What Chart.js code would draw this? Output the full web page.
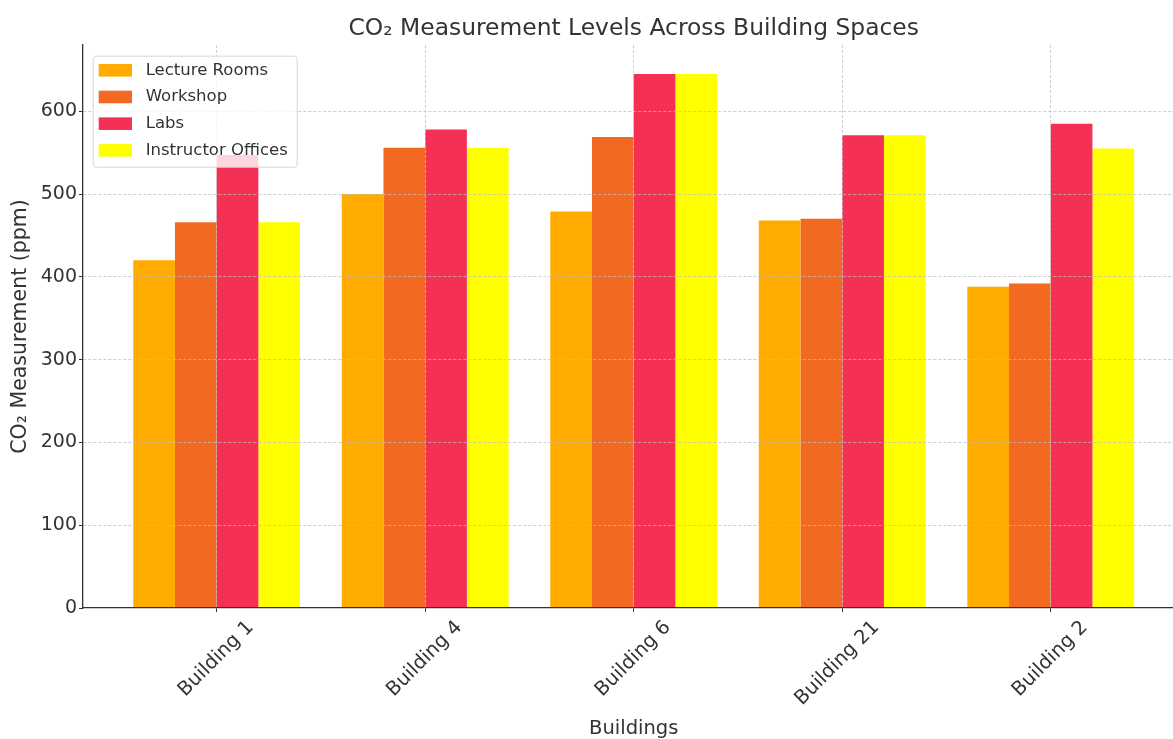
<!DOCTYPE html>
<html>
<head>
<meta charset="utf-8">
<title>CO₂ Measurement Levels Across Building Spaces</title>
<script src="https://cdn.jsdelivr.net/npm/chart.js@4.4.0/dist/chart.umd.min.js"></script>
<style>
  html, body { margin: 0; padding: 0; background: #ffffff; overflow: hidden; }
  #wrap { width: 1200px; height: 750px; }
</style>
</head>
<body>
<div id="wrap"><canvas id="co2" width="1200" height="750"></canvas></div>
<script>
// Buildings on the x axis and the CO₂ readings (ppm) for each space type
const buildings = ['Building 1', 'Building 4', 'Building 6', 'Building 21', 'Building 2'];
const lectureRooms      = [420, 500, 479, 468, 388];
const workshop          = [466, 556, 569, 470, 392];
const labs              = [547, 578, 645, 571, 585];
const instructorOffices = [466, 556, 645, 571, 555];
const yTicks = [0, 100, 200, 300, 400, 500, 600];

const seriesNames  = ['Lecture Rooms', 'Workshop', 'Labs', 'Instructor Offices'];
const seriesValues = [lectureRooms, workshop, labs, instructorOffices];
const seriesColors = ['#FFAB00', '#F26922', '#F53055', '#FFFF00'];

const FONT = '"DejaVu Sans", "Liberation Sans", sans-serif';
const TEXT = '#333333';
const GRID = 'rgba(190,190,190,0.75)';

// Boxed legend in the top-left corner of the plot, drawn on top of the bars
const boxedLegend = {
  id: 'boxedLegend',
  afterDraw(chart) {
    const ctx = chart.ctx;
    const area = chart.chartArea;
    const x0 = area.left + 9.7, y0 = area.top + 10.7, w = 204, h = 111;
    ctx.save();
    ctx.beginPath();
    if (ctx.roundRect) ctx.roundRect(x0 + 0.5, y0 + 0.5, w, h, 3);
    else ctx.rect(x0 + 0.5, y0 + 0.5, w, h);
    ctx.fillStyle = 'rgba(255,255,255,0.8)';
    ctx.fill();
    ctx.strokeStyle = '#d6d6d6';
    ctx.lineWidth = 1;
    ctx.stroke();
    ctx.font = '16.5px ' + FONT;
    ctx.textBaseline = 'middle';
    chart.data.datasets.forEach((ds, i) => {
      const cy = y0 + 14.6 + i * 26.7;
      ctx.fillStyle = ds.backgroundColor;
      ctx.fillRect(x0 + 6, cy - 6.3, 33.3, 12.6);
      ctx.fillStyle = TEXT;
      ctx.fillText(ds.label, x0 + 53, cy);
    });
    ctx.restore();
  }
};

const datasets = seriesNames.map((name, s) => ({
  label: name,
  data: seriesValues[s].map((v, i) => ({ x: i, y: v })),
  backgroundColor: seriesColors[s],
  borderWidth: 0,
  barPercentage: 1.0,
  categoryPercentage: 0.8
}));

new Chart(document.getElementById('co2'), {
  type: 'bar',
  data: { datasets },
  plugins: [boxedLegend],
  options: {
    responsive: false,
    animation: false,
    devicePixelRatio: 1,
    layout: { padding: { left: 0, right: 15.6, top: 0, bottom: 0 } },
    plugins: {
      legend: { display: false },
      tooltip: { enabled: false },
      title: {
        display: true,
        fullSize: false,
        text: 'CO₂ Measurement Levels Across Building Spaces',
        color: TEXT,
        font: { family: FONT, size: 23.4, weight: 'normal', lineHeight: 1.2 },
        padding: { top: 14.5, bottom: 2.4 }
      }
    },
    scales: {
      x: {
        type: 'linear',
        min: -0.641,
        max: 4.641,
        offset: false,
        afterBuildTicks: (scale) => { scale.ticks = buildings.map((_, i) => ({ value: i })); },
        afterFit: (scale) => { scale.height = 142; },
        ticks: {
          autoSkip: false,
          minRotation: 45,
          maxRotation: 45,
          labelOffset: 34,
          padding: 4,
          color: TEXT,
          font: { family: FONT, size: 19.5 },
          callback: (v) => buildings[v]
        },
        grid: {
          z: 1,
          offset: false,
          color: GRID,
          lineWidth: 1,
          drawTicks: true,
          tickLength: 4,
          tickColor: '#333333'
        },
        border: { display: true, z: 1, color: '#333333', width: 1.3, dash: [3, 2] },
        title: {
          display: true,
          text: 'Buildings',
          color: TEXT,
          font: { family: FONT, size: 19.5, lineHeight: 1.2 },
          padding: { top: 0, bottom: 9.3 }
        }
      },
      y: {
        min: 0,
        max: 680,
        afterBuildTicks: (scale) => { scale.ticks = yTicks.map(v => ({ value: v })); },
        afterFit: (scale) => { scale.width = 83; },
        ticks: {
          color: TEXT,
          padding: 2,
          font: { family: FONT, size: 19 }
        },
        grid: {
          z: 1,
          color: (ctx) => ctx.tick && ctx.tick.value === 0 ? 'rgba(0,0,0,0)' : GRID,
          lineWidth: 1,
          drawTicks: true,
          tickLength: 4,
          tickColor: '#333333'
        },
        border: { display: true, z: 1, color: '#333333', width: 1.3, dash: [3, 2] },
        title: {
          display: true,
          text: 'CO₂ Measurement (ppm)',
          color: TEXT,
          font: { family: FONT, size: 20.5, lineHeight: 1.2 },
          padding: { top: 8.5, bottom: 0 }
        }
      }
    }
  }
});
</script>
</body>
</html>
